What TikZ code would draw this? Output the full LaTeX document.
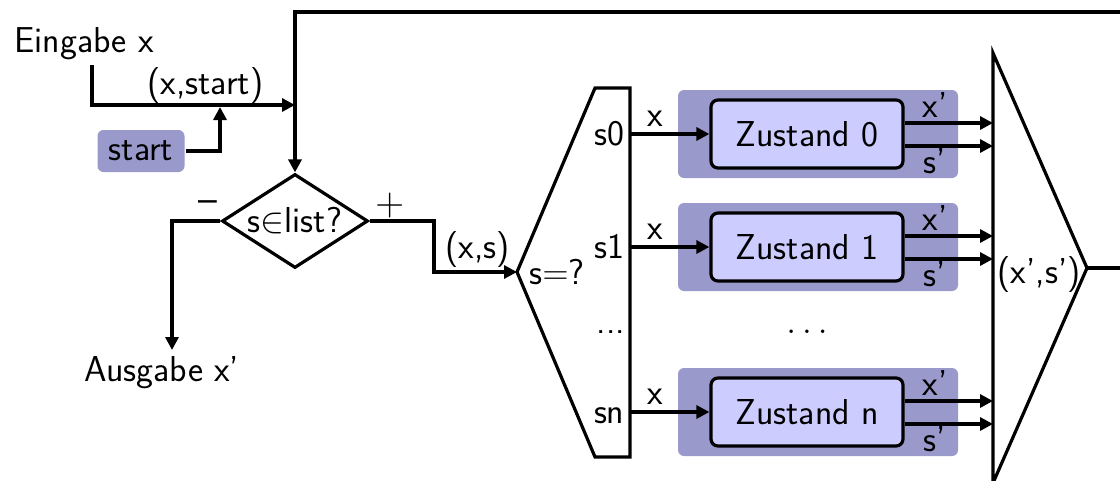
\RequirePackage{fix-cm}
\documentclass[tikz,border=0pt]{standalone}
\usetikzlibrary{arrows.meta,shapes.geometric}
\definecolor{outerblue}{RGB}{153,153,204}
\definecolor{innerblue}{RGB}{204,204,255}
\DeclareMathSizes{36}{36}{25}{18}
\begin{document}
\begin{tikzpicture}[x=1pt,y=-1pt,
  font=\sffamily\fontsize{36}{42}\selectfont,
  line width=3.2pt,
  arr/.style={-{Triangle[length=13pt,width=13pt]}},
  lbl/.style={inner sep=0pt, anchor=base},
  lblw/.style={inner sep=0pt, anchor=base west},
  outerbox/.style={fill=outerblue, rounded corners=6pt, minimum width=280pt, minimum height=88pt, inner sep=0pt},
  innerbox/.style={draw, fill=innerblue, rounded corners=7pt, minimum width=192pt, minimum height=68pt, inner sep=0pt},
  startbox/.style={fill=outerblue, rounded corners=6pt, minimum width=87pt, minimum height=42pt, inner sep=0pt},
  decision/.style={draw, diamond, aspect=1.55, minimum width=146pt, minimum height=94pt, inner sep=0pt}]
\clip (0,0) rectangle (1120,480);

% input and start token
\node[lblw] (ein) at (13,52) {Eingabe x};
\coordinate (e0) at (92,65);
\coordinate (join) at (295,105);
\node[lblw] (xstart) at (146,94) {(x,start)};
\node[startbox] (startn) at (141,151) {start};
\coordinate (sj) at (220,107);
\draw[arr] (e0) |- (join);
\draw[arr] (startn.east) -| (sj);

% decision
\node[decision] (dec) at (295,221) {s$\in$list?};
\node[lbl] (minus) at (208,212) {{\fontsize{40}{44}\selectfont –}};
\node[lbl] (plus) at (390,215) {{\fontsize{40}{44}\selectfont +}};
\node[lblw] (aus) at (83,381) {Ausgabe x'};
\coordinate (aus0) at (172,350);
\draw[arr] (dec.west) -| (aus0);
\coordinate (bend) at (434,221);
\coordinate (dmin) at (517,272);
\draw[arr] (dec.east) -- (bend) |- (dmin);
\node[lblw] (xs) at (444,258) {(x,s)};

% demultiplexer
\draw[line join=miter] (dmin) -- (595,88) -- (630,88) -- (630,457) -- (595,457) -- cycle;
\node[lblw] (seq) at (528,284) {s$=$?};
\node[lbl] (ddots) at (611,333) {...};
\node[lbl] (mdots) at (807,333) {$\ldots$};

% multiplexer
\coordinate (muxl) at (993,0);
\coordinate (muxout) at (1087,268);
\draw[line join=miter] (993,53) -- (muxout) -- (993,483) -- cycle;
\node[lblw] (xsp) at (996,283) {(x',s')};

% states
\foreach \i/\yy/\s in {0/134/s0, 1/247/s1, n/412/sn}{
  \node[outerbox] (o\i) at (818,\yy) {};
  \node[innerbox] (z\i) at (807,\yy) {Zustand \i};
  \node[inner sep=0pt, anchor=base east] (sel\i) at (626,\yy+11) {\s};
  \coordinate (d\i) at (630,\yy);
  \draw[arr] (d\i) -- (z\i.west);
  \node[inner sep=0pt] (xin\i) at (655,\yy-15) {x};
  \draw[arr] ([yshift=11pt]z\i.east) -- ([yshift=11pt]z\i.east -| muxl);
  \draw[arr] ([yshift=-12pt]z\i.east) -- ([yshift=-12pt]z\i.east -| muxl);
  \node[inner sep=0pt] (xo\i) at (935,\yy-29) {x'};
  \node[inner sep=0pt] (so\i) at (935,\yy+27) {s'};
}

% feedback loop
\coordinate (loop) at (1140,12);
\coordinate (top) at (295,12);
\draw[arr] (muxout) -| (loop) -- (top) -- (dec.north);
\end{tikzpicture}
\end{document}
